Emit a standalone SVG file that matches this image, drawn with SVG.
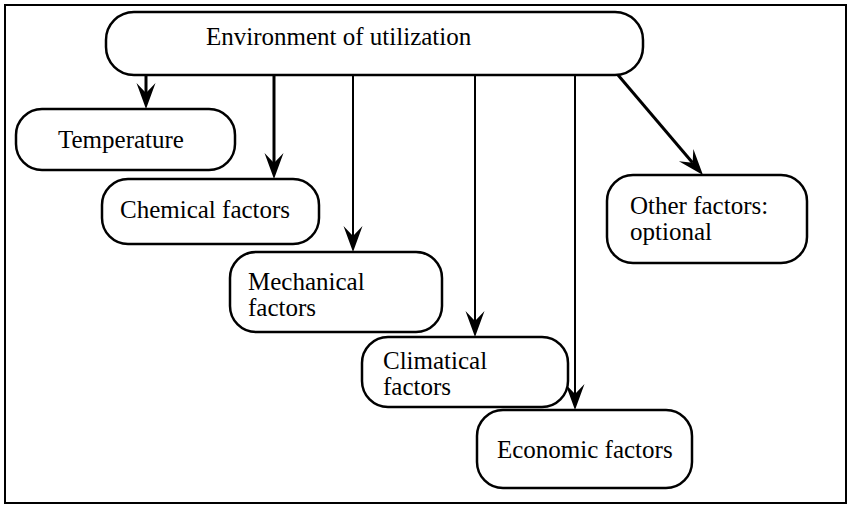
<svg xmlns="http://www.w3.org/2000/svg" width="850" height="506" viewBox="0 0 850 506">
<style>
.frame{fill:none;stroke:#000;stroke-width:2}
.box{fill:#fff;stroke:#000;stroke-width:2.5}
.t{font-family:"Liberation Serif","Times New Roman",serif;font-size:25px;fill:#000}
.thick{stroke:#000;stroke-width:3;fill:none}
.thin{stroke:#000;stroke-width:2;fill:none}
</style>
<defs>
<marker id="ah" markerUnits="userSpaceOnUse" markerWidth="28" markerHeight="22" viewBox="0 -11 28 22" refX="10" refY="0" orient="auto">
<path d="M26,0 L0,-9.5 L10,0 L0,9.5 Z" fill="#000"/>
</marker>
</defs>
<rect class="frame" x="5" y="5" width="841" height="498"/>
<g id="connectors">
<line class="thick" x1="146" y1="75" x2="146" y2="93" marker-end="url(#ah)"/>
<line class="thick" x1="274" y1="75" x2="274" y2="163" marker-end="url(#ah)"/>
<line class="thin" x1="353" y1="75" x2="353" y2="236" marker-end="url(#ah)"/>
<line class="thin" x1="475" y1="75" x2="475" y2="321" marker-end="url(#ah)"/>
<line class="thin" x1="575" y1="75" x2="575" y2="394" marker-end="url(#ah)"/>
<line class="thick" x1="618" y1="75" x2="692.6" y2="162.8" marker-end="url(#ah)"/>
</g>
<g id="environment">
<rect class="box" x="106" y="12" width="537" height="63" rx="28"/>
<text class="t" x="206" y="45">Environment of utilization</text>
</g>
<g id="temperature">
<rect class="box" x="16" y="109" width="219" height="61" rx="26"/>
<text class="t" x="58" y="148">Temperature</text>
</g>
<g id="chemical">
<rect class="box" x="102" y="179" width="217" height="65" rx="26"/>
<text class="t" x="120" y="218">Chemical factors</text>
</g>
<g id="mechanical">
<rect class="box" x="230" y="252" width="212" height="80" rx="26"/>
<text class="t" x="248" y="290">Mechanical</text>
<text class="t" x="248" y="316">factors</text>
</g>
<g id="climatical">
<rect class="box" x="362" y="337" width="206" height="70" rx="26"/>
<text class="t" x="383" y="369">Climatical</text>
<text class="t" x="383" y="395">factors</text>
</g>
<g id="economic">
<rect class="box" x="477" y="410" width="215" height="78" rx="26"/>
<text class="t" x="497" y="458">Economic factors</text>
</g>
<g id="other">
<rect class="box" x="607" y="175" width="200" height="88" rx="26"/>
<text class="t" x="630" y="214">Other factors:</text>
<text class="t" x="630" y="240">optional</text>
</g>
</svg>
